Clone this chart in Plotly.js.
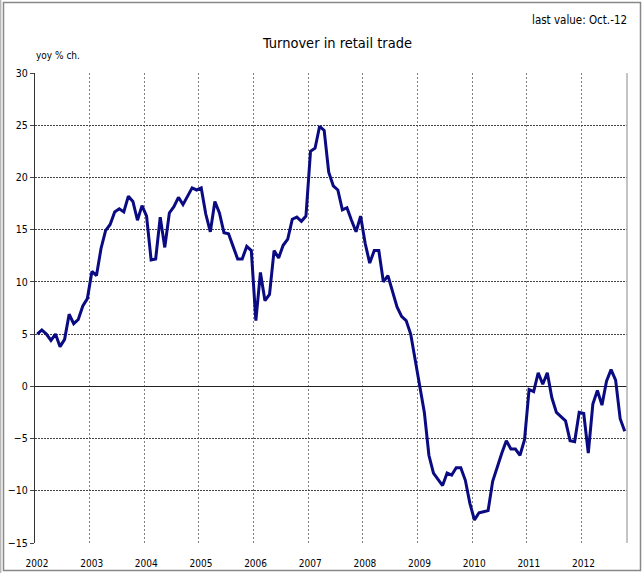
<!DOCTYPE html>
<html>
<head>
<meta charset="utf-8">
<script src="https://cdn.plot.ly/plotly-3.0.1.min.js"></script>
<style>html,body{margin:0;padding:0;background:#fff;}#chart{width:643px;height:573px;}</style>
</head>
<body>
<div id="chart"></div>
<script>
// Monthly yoy % change of retail trade turnover, Jan 2002 .. Oct 2012
const startYear = 2002;
const y2002 = [5.0, 5.4, 5.0, 4.4, 5.0, 3.8, 4.5, 6.9, 6.0, 6.4, 7.7, 8.4];
const y2003 = [11.0, 10.6, 13.2, 14.9, 15.5, 16.7, 17.0, 16.7, 18.2, 17.7, 15.9, 17.3];
const y2004 = [16.3, 12.1, 12.2, 16.2, 13.3, 16.6, 17.2, 18.1, 17.4, 18.2, 19.0, 18.8];
const y2005 = [19.0, 16.5, 14.8, 17.7, 16.6, 14.7, 14.6, 13.4, 12.2, 12.2, 13.4, 13.0];
const y2006 = [6.3, 10.9, 8.2, 8.8, 13.0, 12.3, 13.5, 14.1, 16.0, 16.2, 15.8, 16.3];
const y2007 = [22.5, 22.8, 24.9, 24.5, 20.5, 19.2, 18.8, 16.9, 17.1, 15.9, 14.8, 16.3];
const y2008 = [13.7, 11.8, 13.0, 13.0, 10.0, 10.6, 9.1, 7.6, 6.7, 6.3, 5.0, 2.4];
const y2009 = [0.1, -2.5, -6.6, -8.3, -8.9, -9.5, -8.3, -8.5, -7.8, -7.8, -9.0, -11.2];
const y2010 = [-12.8, -12.1, -12.0, -11.9, -9.1, -7.7, -6.4, -5.2, -6.0, -6.0, -6.6, -5.1];
const y2011 = [-0.3, -0.5, 1.3, 0.2, 1.3, -1.1, -2.5, -2.9, -3.3, -5.2, -5.3, -2.5];
const y2012 = [-2.6, -6.4, -1.7, -0.4, -1.8, 0.5, 1.6, 0.6, -3.1, -4.3];
const yearTicks = [2002, 2003, 2004, 2005, 2006, 2007, 2008, 2009, 2010, 2011, 2012];
const yTicks = [-15, -10, -5, 0, 5, 10, 15, 20, 25, 30];

const values = [].concat(y2002, y2003, y2004, y2005, y2006, y2007, y2008, y2009, y2010, y2011, y2012);
// each month sits in the middle of its slot on a fractional-year axis
const xs = values.map((_, i) => startYear + (i + 0.5) / 12);
const xEnd = startYear + values.length / 12;

const W = 643, H = 573;
const M = {l: 35, r: 16, t: 73, b: 30};
const pw = W - M.l - M.r, ph = H - M.t - M.b;
const px = x => (x - M.l) / pw;
const py = y => (H - M.b - y) / ph;

const FONT = "'Liberation Sans Narrow', 'DejaVu Sans Condensed', 'Arial Narrow', sans-serif";

const trace = {
  x: xs, y: values, type: 'scatter', mode: 'lines',
  line: {color: '#0a0a82', width: 3},
  hoverinfo: 'skip'
};

const layout = {
  width: W, height: H,
  margin: M,
  paper_bgcolor: '#ffffff', plot_bgcolor: '#ffffff',
  showlegend: false,
  font: {family: FONT, size: 11, color: '#000'},
  title: {
    text: 'Turnover in retail trade',
    font: {family: FONT, size: 14.5, color: '#000'},
    xref: 'paper', x: 0.511, xanchor: 'center',
    yref: 'container', y: 1 - 43 / H, yanchor: 'middle'
  },
  xaxis: {
    type: 'linear', range: [startYear, xEnd],
    tickvals: yearTicks, ticktext: yearTicks.map(String),
    showgrid: true, gridcolor: '#808080', gridwidth: 1, griddash: '2px,2px',
    zeroline: false, showline: false, ticks: '',
    ticklabelshift: 2, ticklabelstandoff: 13,
    tickfont: {family: FONT, size: 10, color: '#000'}
  },
  yaxis: {
    range: [-15, 30], tickvals: yTicks,
    showgrid: true, gridcolor: '#444', gridwidth: 1, griddash: '2px,1px',
    zeroline: true, zerolinecolor: '#222', zerolinewidth: 1,
    showline: true, linecolor: '#333', linewidth: 1.2,
    ticks: 'outside', ticklen: 4, tickcolor: '#444',
    tickfont: {family: FONT, size: 10.5, color: '#000'}
  },
  shapes: [
    {type: 'line', xref: 'paper', yref: 'paper', x0: 1, x1: 1, y0: 0, y1: 1,
     line: {color: '#b0b0b0', width: 1.5}},
    {type: 'rect', xref: 'paper', yref: 'paper',
     x0: px(3.5), x1: px(640.5), y0: py(570.5), y1: py(2.5),
     line: {color: '#888', width: 1.5}, fillcolor: 'rgba(0,0,0,0)'},
    {type: 'line', xref: 'paper', yref: 'paper',
     x0: px(0.8), x1: px(0.8), y0: py(573), y1: py(0),
     line: {color: '#999', width: 1}}
  ],
  annotations: [
    {text: 'last value: Oct.-12', xref: 'paper', yref: 'paper',
     x: px(629), y: py(20), xanchor: 'right', yanchor: 'middle', showarrow: false,
     font: {family: FONT, size: 11.5, color: '#000'}},
    {text: 'yoy % ch.', xref: 'paper', yref: 'paper',
     x: px(34), y: py(55), xanchor: 'left', yanchor: 'middle', showarrow: false,
     font: {family: FONT, size: 10, color: '#000'}}
  ]
};

Plotly.newPlot('chart', [trace], layout, {staticPlot: true, displayModeBar: false});
</script>
</body>
</html>
